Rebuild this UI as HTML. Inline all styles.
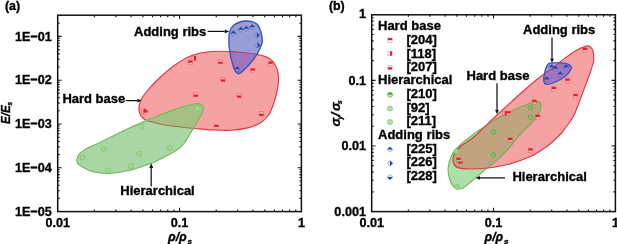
<!DOCTYPE html>
<html><head><meta charset="utf-8"><style>
html,body{margin:0;padding:0;background:#fff;width:617px;height:244px;overflow:hidden}
svg{display:block;will-change:transform}
text{font-family:"Liberation Sans",sans-serif}
</style></head><body>
<svg width="617" height="244" viewBox="0 0 617 244"><defs><clipPath id="LG"><path d="M76.70,159.80 C76.93,158.10 78.22,155.30 79.60,153.60 C80.98,151.90 82.93,150.87 85.00,149.60 C87.07,148.33 89.50,147.20 92.00,146.00 C94.50,144.80 97.00,143.80 100.00,142.40 C103.00,141.00 106.67,139.23 110.00,137.60 C113.33,135.97 116.67,134.23 120.00,132.60 C123.33,130.97 125.83,129.72 130.00,127.80 C134.17,125.88 140.00,123.23 145.00,121.10 C150.00,118.97 154.17,117.25 160.00,115.00 C165.83,112.75 174.50,109.40 180.00,107.60 C185.50,105.80 189.75,104.82 193.00,104.20 C196.25,103.58 197.82,103.50 199.50,103.90 C201.18,104.30 202.60,105.33 203.10,106.60 C203.60,107.87 203.10,109.60 202.50,111.50 C201.90,113.40 200.82,115.50 199.50,118.00 C198.18,120.50 196.30,123.67 194.60,126.50 C192.90,129.33 190.98,132.25 189.30,135.00 C187.62,137.75 186.38,140.62 184.50,143.00 C182.62,145.38 180.42,147.47 178.00,149.30 C175.58,151.13 173.00,152.33 170.00,154.00 C167.00,155.67 163.33,157.67 160.00,159.30 C156.67,160.93 155.00,161.97 150.00,163.80 C145.00,165.63 136.33,168.72 130.00,170.30 C123.67,171.88 117.00,172.85 112.00,173.30 C107.00,173.75 103.67,173.45 100.00,173.00 C96.33,172.55 92.92,171.60 90.00,170.60 C87.08,169.60 84.47,168.13 82.50,167.00 C80.53,165.87 79.17,165.00 78.20,163.80 C77.23,162.60 76.47,161.50 76.70,159.80Z"/></clipPath><clipPath id="LB"><path d="M229.70,31.50 C230.47,29.07 231.68,26.98 233.40,25.40 C235.12,23.82 237.95,22.73 240.00,22.00 C242.05,21.27 243.70,21.07 245.70,21.00 C247.70,20.93 250.03,21.02 252.00,21.60 C253.97,22.18 256.03,22.85 257.50,24.50 C258.97,26.15 260.00,28.75 260.80,31.50 C261.60,34.25 262.43,38.17 262.30,41.00 C262.17,43.83 261.12,45.93 260.00,48.50 C258.88,51.07 257.48,53.60 255.60,56.40 C253.72,59.20 250.97,62.77 248.70,65.30 C246.43,67.83 243.78,70.20 242.00,71.60 C240.22,73.00 239.17,73.83 238.00,73.70 C236.83,73.57 236.08,73.08 235.00,70.80 C233.92,68.52 232.45,63.80 231.50,60.00 C230.55,56.20 229.75,51.33 229.30,48.00 C228.85,44.67 228.73,42.75 228.80,40.00 C228.87,37.25 228.93,33.93 229.70,31.50Z"/></clipPath><clipPath id="LR"><path d="M138.90,109.80 C138.77,107.25 139.15,104.13 140.50,101.00 C141.85,97.87 143.75,94.92 147.00,91.00 C150.25,87.08 155.33,81.83 160.00,77.50 C164.67,73.17 170.00,68.53 175.00,65.00 C180.00,61.47 185.00,58.42 190.00,56.30 C195.00,54.18 200.00,53.15 205.00,52.30 C210.00,51.45 214.17,51.20 220.00,51.20 C225.83,51.20 233.67,51.73 240.00,52.30 C246.33,52.87 253.08,53.55 258.00,54.60 C262.92,55.65 266.58,56.78 269.50,58.60 C272.42,60.42 274.02,62.85 275.50,65.50 C276.98,68.15 277.93,71.42 278.40,74.50 C278.87,77.58 278.58,80.92 278.30,84.00 C278.02,87.08 277.45,89.83 276.70,93.00 C275.95,96.17 275.08,99.42 273.80,103.00 C272.52,106.58 271.13,111.25 269.00,114.50 C266.87,117.75 264.33,120.32 261.00,122.50 C257.67,124.68 254.00,126.32 249.00,127.60 C244.00,128.88 237.17,129.82 231.00,130.20 C224.83,130.58 218.00,130.18 212.00,129.90 C206.00,129.62 200.33,128.98 195.00,128.50 C189.67,128.02 185.00,127.58 180.00,127.00 C175.00,126.42 169.50,125.80 165.00,125.00 C160.50,124.20 156.12,122.98 153.00,122.20 C149.88,121.42 148.25,121.28 146.30,120.30 C144.35,119.32 142.53,118.05 141.30,116.30 C140.07,114.55 139.03,112.35 138.90,109.80Z"/></clipPath><mask id="LmG"><rect width="617" height="244" fill="#fff"/><path d="M76.70,159.80 C76.93,158.10 78.22,155.30 79.60,153.60 C80.98,151.90 82.93,150.87 85.00,149.60 C87.07,148.33 89.50,147.20 92.00,146.00 C94.50,144.80 97.00,143.80 100.00,142.40 C103.00,141.00 106.67,139.23 110.00,137.60 C113.33,135.97 116.67,134.23 120.00,132.60 C123.33,130.97 125.83,129.72 130.00,127.80 C134.17,125.88 140.00,123.23 145.00,121.10 C150.00,118.97 154.17,117.25 160.00,115.00 C165.83,112.75 174.50,109.40 180.00,107.60 C185.50,105.80 189.75,104.82 193.00,104.20 C196.25,103.58 197.82,103.50 199.50,103.90 C201.18,104.30 202.60,105.33 203.10,106.60 C203.60,107.87 203.10,109.60 202.50,111.50 C201.90,113.40 200.82,115.50 199.50,118.00 C198.18,120.50 196.30,123.67 194.60,126.50 C192.90,129.33 190.98,132.25 189.30,135.00 C187.62,137.75 186.38,140.62 184.50,143.00 C182.62,145.38 180.42,147.47 178.00,149.30 C175.58,151.13 173.00,152.33 170.00,154.00 C167.00,155.67 163.33,157.67 160.00,159.30 C156.67,160.93 155.00,161.97 150.00,163.80 C145.00,165.63 136.33,168.72 130.00,170.30 C123.67,171.88 117.00,172.85 112.00,173.30 C107.00,173.75 103.67,173.45 100.00,173.00 C96.33,172.55 92.92,171.60 90.00,170.60 C87.08,169.60 84.47,168.13 82.50,167.00 C80.53,165.87 79.17,165.00 78.20,163.80 C77.23,162.60 76.47,161.50 76.70,159.80Z" fill="#000"/></mask><mask id="LmR"><rect width="617" height="244" fill="#fff"/><path d="M138.90,109.80 C138.77,107.25 139.15,104.13 140.50,101.00 C141.85,97.87 143.75,94.92 147.00,91.00 C150.25,87.08 155.33,81.83 160.00,77.50 C164.67,73.17 170.00,68.53 175.00,65.00 C180.00,61.47 185.00,58.42 190.00,56.30 C195.00,54.18 200.00,53.15 205.00,52.30 C210.00,51.45 214.17,51.20 220.00,51.20 C225.83,51.20 233.67,51.73 240.00,52.30 C246.33,52.87 253.08,53.55 258.00,54.60 C262.92,55.65 266.58,56.78 269.50,58.60 C272.42,60.42 274.02,62.85 275.50,65.50 C276.98,68.15 277.93,71.42 278.40,74.50 C278.87,77.58 278.58,80.92 278.30,84.00 C278.02,87.08 277.45,89.83 276.70,93.00 C275.95,96.17 275.08,99.42 273.80,103.00 C272.52,106.58 271.13,111.25 269.00,114.50 C266.87,117.75 264.33,120.32 261.00,122.50 C257.67,124.68 254.00,126.32 249.00,127.60 C244.00,128.88 237.17,129.82 231.00,130.20 C224.83,130.58 218.00,130.18 212.00,129.90 C206.00,129.62 200.33,128.98 195.00,128.50 C189.67,128.02 185.00,127.58 180.00,127.00 C175.00,126.42 169.50,125.80 165.00,125.00 C160.50,124.20 156.12,122.98 153.00,122.20 C149.88,121.42 148.25,121.28 146.30,120.30 C144.35,119.32 142.53,118.05 141.30,116.30 C140.07,114.55 139.03,112.35 138.90,109.80Z" fill="#000"/></mask></defs>
<path d="M138.90,109.80 C138.77,107.25 139.15,104.13 140.50,101.00 C141.85,97.87 143.75,94.92 147.00,91.00 C150.25,87.08 155.33,81.83 160.00,77.50 C164.67,73.17 170.00,68.53 175.00,65.00 C180.00,61.47 185.00,58.42 190.00,56.30 C195.00,54.18 200.00,53.15 205.00,52.30 C210.00,51.45 214.17,51.20 220.00,51.20 C225.83,51.20 233.67,51.73 240.00,52.30 C246.33,52.87 253.08,53.55 258.00,54.60 C262.92,55.65 266.58,56.78 269.50,58.60 C272.42,60.42 274.02,62.85 275.50,65.50 C276.98,68.15 277.93,71.42 278.40,74.50 C278.87,77.58 278.58,80.92 278.30,84.00 C278.02,87.08 277.45,89.83 276.70,93.00 C275.95,96.17 275.08,99.42 273.80,103.00 C272.52,106.58 271.13,111.25 269.00,114.50 C266.87,117.75 264.33,120.32 261.00,122.50 C257.67,124.68 254.00,126.32 249.00,127.60 C244.00,128.88 237.17,129.82 231.00,130.20 C224.83,130.58 218.00,130.18 212.00,129.90 C206.00,129.62 200.33,128.98 195.00,128.50 C189.67,128.02 185.00,127.58 180.00,127.00 C175.00,126.42 169.50,125.80 165.00,125.00 C160.50,124.20 156.12,122.98 153.00,122.20 C149.88,121.42 148.25,121.28 146.30,120.30 C144.35,119.32 142.53,118.05 141.30,116.30 C140.07,114.55 139.03,112.35 138.90,109.80Z" fill="rgb(246,162,164)"/>
<path d="M76.70,159.80 C76.93,158.10 78.22,155.30 79.60,153.60 C80.98,151.90 82.93,150.87 85.00,149.60 C87.07,148.33 89.50,147.20 92.00,146.00 C94.50,144.80 97.00,143.80 100.00,142.40 C103.00,141.00 106.67,139.23 110.00,137.60 C113.33,135.97 116.67,134.23 120.00,132.60 C123.33,130.97 125.83,129.72 130.00,127.80 C134.17,125.88 140.00,123.23 145.00,121.10 C150.00,118.97 154.17,117.25 160.00,115.00 C165.83,112.75 174.50,109.40 180.00,107.60 C185.50,105.80 189.75,104.82 193.00,104.20 C196.25,103.58 197.82,103.50 199.50,103.90 C201.18,104.30 202.60,105.33 203.10,106.60 C203.60,107.87 203.10,109.60 202.50,111.50 C201.90,113.40 200.82,115.50 199.50,118.00 C198.18,120.50 196.30,123.67 194.60,126.50 C192.90,129.33 190.98,132.25 189.30,135.00 C187.62,137.75 186.38,140.62 184.50,143.00 C182.62,145.38 180.42,147.47 178.00,149.30 C175.58,151.13 173.00,152.33 170.00,154.00 C167.00,155.67 163.33,157.67 160.00,159.30 C156.67,160.93 155.00,161.97 150.00,163.80 C145.00,165.63 136.33,168.72 130.00,170.30 C123.67,171.88 117.00,172.85 112.00,173.30 C107.00,173.75 103.67,173.45 100.00,173.00 C96.33,172.55 92.92,171.60 90.00,170.60 C87.08,169.60 84.47,168.13 82.50,167.00 C80.53,165.87 79.17,165.00 78.20,163.80 C77.23,162.60 76.47,161.50 76.70,159.80Z" fill="rgb(170,214,166)"/>
<path d="M138.90,109.80 C138.77,107.25 139.15,104.13 140.50,101.00 C141.85,97.87 143.75,94.92 147.00,91.00 C150.25,87.08 155.33,81.83 160.00,77.50 C164.67,73.17 170.00,68.53 175.00,65.00 C180.00,61.47 185.00,58.42 190.00,56.30 C195.00,54.18 200.00,53.15 205.00,52.30 C210.00,51.45 214.17,51.20 220.00,51.20 C225.83,51.20 233.67,51.73 240.00,52.30 C246.33,52.87 253.08,53.55 258.00,54.60 C262.92,55.65 266.58,56.78 269.50,58.60 C272.42,60.42 274.02,62.85 275.50,65.50 C276.98,68.15 277.93,71.42 278.40,74.50 C278.87,77.58 278.58,80.92 278.30,84.00 C278.02,87.08 277.45,89.83 276.70,93.00 C275.95,96.17 275.08,99.42 273.80,103.00 C272.52,106.58 271.13,111.25 269.00,114.50 C266.87,117.75 264.33,120.32 261.00,122.50 C257.67,124.68 254.00,126.32 249.00,127.60 C244.00,128.88 237.17,129.82 231.00,130.20 C224.83,130.58 218.00,130.18 212.00,129.90 C206.00,129.62 200.33,128.98 195.00,128.50 C189.67,128.02 185.00,127.58 180.00,127.00 C175.00,126.42 169.50,125.80 165.00,125.00 C160.50,124.20 156.12,122.98 153.00,122.20 C149.88,121.42 148.25,121.28 146.30,120.30 C144.35,119.32 142.53,118.05 141.30,116.30 C140.07,114.55 139.03,112.35 138.90,109.80Z" fill="rgb(166,192,132)" clip-path="url(#LG)"/>
<path d="M138.90,109.80 C138.77,107.25 139.15,104.13 140.50,101.00 C141.85,97.87 143.75,94.92 147.00,91.00 C150.25,87.08 155.33,81.83 160.00,77.50 C164.67,73.17 170.00,68.53 175.00,65.00 C180.00,61.47 185.00,58.42 190.00,56.30 C195.00,54.18 200.00,53.15 205.00,52.30 C210.00,51.45 214.17,51.20 220.00,51.20 C225.83,51.20 233.67,51.73 240.00,52.30 C246.33,52.87 253.08,53.55 258.00,54.60 C262.92,55.65 266.58,56.78 269.50,58.60 C272.42,60.42 274.02,62.85 275.50,65.50 C276.98,68.15 277.93,71.42 278.40,74.50 C278.87,77.58 278.58,80.92 278.30,84.00 C278.02,87.08 277.45,89.83 276.70,93.00 C275.95,96.17 275.08,99.42 273.80,103.00 C272.52,106.58 271.13,111.25 269.00,114.50 C266.87,117.75 264.33,120.32 261.00,122.50 C257.67,124.68 254.00,126.32 249.00,127.60 C244.00,128.88 237.17,129.82 231.00,130.20 C224.83,130.58 218.00,130.18 212.00,129.90 C206.00,129.62 200.33,128.98 195.00,128.50 C189.67,128.02 185.00,127.58 180.00,127.00 C175.00,126.42 169.50,125.80 165.00,125.00 C160.50,124.20 156.12,122.98 153.00,122.20 C149.88,121.42 148.25,121.28 146.30,120.30 C144.35,119.32 142.53,118.05 141.30,116.30 C140.07,114.55 139.03,112.35 138.90,109.80Z" fill="none" stroke="#de3843" stroke-width="1.15" mask="url(#LmG)"/>
<path d="M138.90,109.80 C138.77,107.25 139.15,104.13 140.50,101.00 C141.85,97.87 143.75,94.92 147.00,91.00 C150.25,87.08 155.33,81.83 160.00,77.50 C164.67,73.17 170.00,68.53 175.00,65.00 C180.00,61.47 185.00,58.42 190.00,56.30 C195.00,54.18 200.00,53.15 205.00,52.30 C210.00,51.45 214.17,51.20 220.00,51.20 C225.83,51.20 233.67,51.73 240.00,52.30 C246.33,52.87 253.08,53.55 258.00,54.60 C262.92,55.65 266.58,56.78 269.50,58.60 C272.42,60.42 274.02,62.85 275.50,65.50 C276.98,68.15 277.93,71.42 278.40,74.50 C278.87,77.58 278.58,80.92 278.30,84.00 C278.02,87.08 277.45,89.83 276.70,93.00 C275.95,96.17 275.08,99.42 273.80,103.00 C272.52,106.58 271.13,111.25 269.00,114.50 C266.87,117.75 264.33,120.32 261.00,122.50 C257.67,124.68 254.00,126.32 249.00,127.60 C244.00,128.88 237.17,129.82 231.00,130.20 C224.83,130.58 218.00,130.18 212.00,129.90 C206.00,129.62 200.33,128.98 195.00,128.50 C189.67,128.02 185.00,127.58 180.00,127.00 C175.00,126.42 169.50,125.80 165.00,125.00 C160.50,124.20 156.12,122.98 153.00,122.20 C149.88,121.42 148.25,121.28 146.30,120.30 C144.35,119.32 142.53,118.05 141.30,116.30 C140.07,114.55 139.03,112.35 138.90,109.80Z" fill="none" stroke="#a8704e" stroke-width="1.15" clip-path="url(#LG)"/>
<path d="M76.70,159.80 C76.93,158.10 78.22,155.30 79.60,153.60 C80.98,151.90 82.93,150.87 85.00,149.60 C87.07,148.33 89.50,147.20 92.00,146.00 C94.50,144.80 97.00,143.80 100.00,142.40 C103.00,141.00 106.67,139.23 110.00,137.60 C113.33,135.97 116.67,134.23 120.00,132.60 C123.33,130.97 125.83,129.72 130.00,127.80 C134.17,125.88 140.00,123.23 145.00,121.10 C150.00,118.97 154.17,117.25 160.00,115.00 C165.83,112.75 174.50,109.40 180.00,107.60 C185.50,105.80 189.75,104.82 193.00,104.20 C196.25,103.58 197.82,103.50 199.50,103.90 C201.18,104.30 202.60,105.33 203.10,106.60 C203.60,107.87 203.10,109.60 202.50,111.50 C201.90,113.40 200.82,115.50 199.50,118.00 C198.18,120.50 196.30,123.67 194.60,126.50 C192.90,129.33 190.98,132.25 189.30,135.00 C187.62,137.75 186.38,140.62 184.50,143.00 C182.62,145.38 180.42,147.47 178.00,149.30 C175.58,151.13 173.00,152.33 170.00,154.00 C167.00,155.67 163.33,157.67 160.00,159.30 C156.67,160.93 155.00,161.97 150.00,163.80 C145.00,165.63 136.33,168.72 130.00,170.30 C123.67,171.88 117.00,172.85 112.00,173.30 C107.00,173.75 103.67,173.45 100.00,173.00 C96.33,172.55 92.92,171.60 90.00,170.60 C87.08,169.60 84.47,168.13 82.50,167.00 C80.53,165.87 79.17,165.00 78.20,163.80 C77.23,162.60 76.47,161.50 76.70,159.80Z" fill="none" stroke="#6cbd58" stroke-width="1.15"/>
<rect x="191.80" y="56.10" width="4.2" height="4.2" fill="rgba(255,225,225,0.3)" stroke="#e01e2e" stroke-opacity="0.55" stroke-width="0.5"/>
<rect x="193.90" y="56.10" width="2.10" height="4.2" fill="#e01e2e"/>
<rect x="188.10" y="60.60" width="4.2" height="4.2" fill="rgba(255,225,225,0.3)" stroke="#e01e2e" stroke-opacity="0.55" stroke-width="0.5"/>
<rect x="188.10" y="60.60" width="4.2" height="2.10" fill="#e01e2e"/>
<rect x="218.20" y="59.60" width="4.2" height="4.2" fill="rgba(255,225,225,0.3)" stroke="#e01e2e" stroke-opacity="0.55" stroke-width="0.5"/>
<rect x="218.20" y="61.70" width="4.2" height="2.10" fill="#e01e2e"/>
<rect x="220.90" y="77.20" width="4.2" height="4.2" fill="rgba(255,225,225,0.3)" stroke="#e01e2e" stroke-opacity="0.55" stroke-width="0.5"/>
<rect x="220.90" y="79.30" width="4.2" height="2.10" fill="#e01e2e"/>
<rect x="193.70" y="92.50" width="4.2" height="4.2" fill="rgba(255,225,225,0.3)" stroke="#e01e2e" stroke-opacity="0.55" stroke-width="0.5"/>
<rect x="193.70" y="94.60" width="4.2" height="2.10" fill="#e01e2e"/>
<rect x="237.10" y="93.40" width="4.2" height="4.2" fill="rgba(255,225,225,0.3)" stroke="#e01e2e" stroke-opacity="0.55" stroke-width="0.5"/>
<rect x="237.10" y="95.50" width="4.2" height="2.10" fill="#e01e2e"/>
<rect x="250.70" y="68.50" width="4.2" height="4.2" fill="rgba(255,225,225,0.3)" stroke="#e01e2e" stroke-opacity="0.55" stroke-width="0.5"/>
<rect x="250.70" y="68.50" width="4.2" height="2.10" fill="#e01e2e"/>
<rect x="268.40" y="61.70" width="4.2" height="4.2" fill="rgba(255,225,225,0.3)" stroke="#e01e2e" stroke-opacity="0.55" stroke-width="0.5"/>
<rect x="268.40" y="61.70" width="4.2" height="2.10" fill="#e01e2e"/>
<rect x="259.20" y="111.70" width="4.2" height="4.2" fill="rgba(255,225,225,0.3)" stroke="#e01e2e" stroke-opacity="0.55" stroke-width="0.5"/>
<rect x="259.20" y="113.80" width="4.2" height="2.10" fill="#e01e2e"/>
<rect x="214.20" y="124.90" width="4.2" height="4.2" fill="rgba(255,225,225,0.3)" stroke="#e01e2e" stroke-opacity="0.55" stroke-width="0.5"/>
<rect x="214.20" y="124.90" width="4.2" height="2.10" fill="#e01e2e"/>
<rect x="141.60" y="108.90" width="4.2" height="4.2" fill="rgba(255,225,225,0.3)" stroke="#e01e2e" stroke-opacity="0.55" stroke-width="0.5"/>
<rect x="143.70" y="108.90" width="2.10" height="4.2" fill="#e01e2e"/>
<rect x="143.40" y="110.30" width="4.2" height="4.2" fill="rgba(255,225,225,0.3)" stroke="#e01e2e" stroke-opacity="0.55" stroke-width="0.5"/>
<rect x="143.40" y="110.30" width="4.2" height="2.10" fill="#e01e2e"/>
<circle cx="197.5" cy="108.7" r="2.6" fill="#a3d596" stroke="#86c873" stroke-width="0.9"/>
<circle cx="141.3" cy="126.1" r="2.6" fill="#a3d596" stroke="#86c873" stroke-width="0.9"/>
<circle cx="103.7" cy="149" r="2.6" fill="#a3d596" stroke="#86c873" stroke-width="0.9"/>
<circle cx="82.4" cy="157.3" r="2.6" fill="#a3d596" stroke="#86c873" stroke-width="0.9"/>
<circle cx="139.4" cy="153.7" r="2.6" fill="#a3d596" stroke="#86c873" stroke-width="0.9"/>
<circle cx="169.6" cy="147.5" r="2.6" fill="#a3d596" stroke="#86c873" stroke-width="0.9"/>
<circle cx="131" cy="166.2" r="2.6" fill="#a3d596" stroke="#86c873" stroke-width="0.9"/>
<circle cx="107.7" cy="170.4" r="2.6" fill="#a3d596" stroke="#86c873" stroke-width="0.9"/>
<path d="M229.70,31.50 C230.47,29.07 231.68,26.98 233.40,25.40 C235.12,23.82 237.95,22.73 240.00,22.00 C242.05,21.27 243.70,21.07 245.70,21.00 C247.70,20.93 250.03,21.02 252.00,21.60 C253.97,22.18 256.03,22.85 257.50,24.50 C258.97,26.15 260.00,28.75 260.80,31.50 C261.60,34.25 262.43,38.17 262.30,41.00 C262.17,43.83 261.12,45.93 260.00,48.50 C258.88,51.07 257.48,53.60 255.60,56.40 C253.72,59.20 250.97,62.77 248.70,65.30 C246.43,67.83 243.78,70.20 242.00,71.60 C240.22,73.00 239.17,73.83 238.00,73.70 C236.83,73.57 236.08,73.08 235.00,70.80 C233.92,68.52 232.45,63.80 231.50,60.00 C230.55,56.20 229.75,51.33 229.30,48.00 C228.85,44.67 228.73,42.75 228.80,40.00 C228.87,37.25 228.93,33.93 229.70,31.50Z" fill="rgb(152,158,213)"/>
<path d="M138.90,109.80 C138.77,107.25 139.15,104.13 140.50,101.00 C141.85,97.87 143.75,94.92 147.00,91.00 C150.25,87.08 155.33,81.83 160.00,77.50 C164.67,73.17 170.00,68.53 175.00,65.00 C180.00,61.47 185.00,58.42 190.00,56.30 C195.00,54.18 200.00,53.15 205.00,52.30 C210.00,51.45 214.17,51.20 220.00,51.20 C225.83,51.20 233.67,51.73 240.00,52.30 C246.33,52.87 253.08,53.55 258.00,54.60 C262.92,55.65 266.58,56.78 269.50,58.60 C272.42,60.42 274.02,62.85 275.50,65.50 C276.98,68.15 277.93,71.42 278.40,74.50 C278.87,77.58 278.58,80.92 278.30,84.00 C278.02,87.08 277.45,89.83 276.70,93.00 C275.95,96.17 275.08,99.42 273.80,103.00 C272.52,106.58 271.13,111.25 269.00,114.50 C266.87,117.75 264.33,120.32 261.00,122.50 C257.67,124.68 254.00,126.32 249.00,127.60 C244.00,128.88 237.17,129.82 231.00,130.20 C224.83,130.58 218.00,130.18 212.00,129.90 C206.00,129.62 200.33,128.98 195.00,128.50 C189.67,128.02 185.00,127.58 180.00,127.00 C175.00,126.42 169.50,125.80 165.00,125.00 C160.50,124.20 156.12,122.98 153.00,122.20 C149.88,121.42 148.25,121.28 146.30,120.30 C144.35,119.32 142.53,118.05 141.30,116.30 C140.07,114.55 139.03,112.35 138.90,109.80Z" fill="rgb(158,118,190)" clip-path="url(#LB)"/>
<path d="M138.90,109.80 C138.77,107.25 139.15,104.13 140.50,101.00 C141.85,97.87 143.75,94.92 147.00,91.00 C150.25,87.08 155.33,81.83 160.00,77.50 C164.67,73.17 170.00,68.53 175.00,65.00 C180.00,61.47 185.00,58.42 190.00,56.30 C195.00,54.18 200.00,53.15 205.00,52.30 C210.00,51.45 214.17,51.20 220.00,51.20 C225.83,51.20 233.67,51.73 240.00,52.30 C246.33,52.87 253.08,53.55 258.00,54.60 C262.92,55.65 266.58,56.78 269.50,58.60 C272.42,60.42 274.02,62.85 275.50,65.50 C276.98,68.15 277.93,71.42 278.40,74.50 C278.87,77.58 278.58,80.92 278.30,84.00 C278.02,87.08 277.45,89.83 276.70,93.00 C275.95,96.17 275.08,99.42 273.80,103.00 C272.52,106.58 271.13,111.25 269.00,114.50 C266.87,117.75 264.33,120.32 261.00,122.50 C257.67,124.68 254.00,126.32 249.00,127.60 C244.00,128.88 237.17,129.82 231.00,130.20 C224.83,130.58 218.00,130.18 212.00,129.90 C206.00,129.62 200.33,128.98 195.00,128.50 C189.67,128.02 185.00,127.58 180.00,127.00 C175.00,126.42 169.50,125.80 165.00,125.00 C160.50,124.20 156.12,122.98 153.00,122.20 C149.88,121.42 148.25,121.28 146.30,120.30 C144.35,119.32 142.53,118.05 141.30,116.30 C140.07,114.55 139.03,112.35 138.90,109.80Z" fill="none" stroke="#b0407a" stroke-width="1.15" clip-path="url(#LB)"/>
<path d="M229.70,31.50 C230.47,29.07 231.68,26.98 233.40,25.40 C235.12,23.82 237.95,22.73 240.00,22.00 C242.05,21.27 243.70,21.07 245.70,21.00 C247.70,20.93 250.03,21.02 252.00,21.60 C253.97,22.18 256.03,22.85 257.50,24.50 C258.97,26.15 260.00,28.75 260.80,31.50 C261.60,34.25 262.43,38.17 262.30,41.00 C262.17,43.83 261.12,45.93 260.00,48.50 C258.88,51.07 257.48,53.60 255.60,56.40 C253.72,59.20 250.97,62.77 248.70,65.30 C246.43,67.83 243.78,70.20 242.00,71.60 C240.22,73.00 239.17,73.83 238.00,73.70 C236.83,73.57 236.08,73.08 235.00,70.80 C233.92,68.52 232.45,63.80 231.50,60.00 C230.55,56.20 229.75,51.33 229.30,48.00 C228.85,44.67 228.73,42.75 228.80,40.00 C228.87,37.25 228.93,33.93 229.70,31.50Z" fill="none" stroke="#3557bd" stroke-width="1.3499999999999999"/>
<path d="M233.4,30.599999999999998L236.20000000000002,33.4L233.4,36.199999999999996L230.6,33.4Z" fill="rgba(220,225,250,0.15)" stroke="#2742aa" stroke-opacity="0.6" stroke-width="0.6"/>
<path d="M233.4,30.599999999999998L236.20000000000002,33.4L230.6,33.4Z" fill="#2742aa"/>
<path d="M240.8,26.9L243.60000000000002,29.7L240.8,32.5L238.0,29.7Z" fill="rgba(220,225,250,0.15)" stroke="#2742aa" stroke-opacity="0.6" stroke-width="0.6"/>
<path d="M240.8,26.9L243.60000000000002,29.7L238.0,29.7Z" fill="#2742aa"/>
<path d="M246.3,26.0L249.10000000000002,28.8L246.3,31.6L243.5,28.8Z" fill="rgba(220,225,250,0.15)" stroke="#2742aa" stroke-opacity="0.6" stroke-width="0.6"/>
<path d="M246.3,26.0L249.10000000000002,28.8L243.5,28.8Z" fill="#2742aa"/>
<path d="M252.1,24.4L254.9,27.2L252.1,30.0L249.29999999999998,27.2Z" fill="rgba(220,225,250,0.15)" stroke="#2742aa" stroke-opacity="0.6" stroke-width="0.6"/>
<path d="M252.1,24.4L254.9,27.2L249.29999999999998,27.2Z" fill="#2742aa"/>
<path d="M256.8,32.400000000000006L259.6,35.2L256.8,38.0L254.0,35.2Z" fill="rgba(220,225,250,0.15)" stroke="#2742aa" stroke-opacity="0.6" stroke-width="0.6"/>
<path d="M256.8,32.400000000000006L259.6,35.2L256.8,38.0Z" fill="#2742aa"/>
<path d="M257.4,42.400000000000006L260.2,45.2L257.4,48.0L254.59999999999997,45.2Z" fill="rgba(220,225,250,0.15)" stroke="#2742aa" stroke-opacity="0.6" stroke-width="0.6"/>
<path d="M257.4,42.400000000000006L260.2,45.2L257.4,48.0Z" fill="#2742aa"/>
<path d="M237.3,66.4L240.10000000000002,69.2L237.3,72.0L234.5,69.2Z" fill="rgba(220,225,250,0.15)" stroke="#2742aa" stroke-opacity="0.6" stroke-width="0.6"/>
<path d="M237.3,66.4L240.10000000000002,69.2L234.5,69.2Z" fill="#2742aa"/>
<rect x="57.7" y="15.2" width="243.70" height="196.40" fill="none" stroke="#111" stroke-width="1.5"/>
<path d="M94.38,211.6v-2.0M94.38,15.2v2.0M115.84,211.6v-2.0M115.84,15.2v2.0M131.06,211.6v-2.0M131.06,15.2v2.0M142.87,211.6v-2.0M142.87,15.2v2.0M152.52,211.6v-2.0M152.52,15.2v2.0M160.68,211.6v-2.0M160.68,15.2v2.0M167.74,211.6v-2.0M167.74,15.2v2.0M173.97,211.6v-2.0M173.97,15.2v2.0M179.55,211.6v-3.8M179.55,15.2v3.8M216.23,211.6v-2.0M216.23,15.2v2.0M237.69,211.6v-2.0M237.69,15.2v2.0M252.91,211.6v-2.0M252.91,15.2v2.0M264.72,211.6v-2.0M264.72,15.2v2.0M274.37,211.6v-2.0M274.37,15.2v2.0M282.53,211.6v-2.0M282.53,15.2v2.0M289.59,211.6v-2.0M289.59,15.2v2.0M295.82,211.6v-2.0M295.82,15.2v2.0" stroke="#111" stroke-width="1.1" fill="none"/>
<path d="M57.7,198.41h2.0M301.4,198.41h-2.0M57.7,190.70h2.0M301.4,190.70h-2.0M57.7,185.23h2.0M301.4,185.23h-2.0M57.7,180.99h2.0M301.4,180.99h-2.0M57.7,177.52h2.0M301.4,177.52h-2.0M57.7,174.58h2.0M301.4,174.58h-2.0M57.7,172.04h2.0M301.4,172.04h-2.0M57.7,169.80h2.0M301.4,169.80h-2.0M57.7,167.80h3.8M301.4,167.80h-3.8M57.7,154.61h2.0M301.4,154.61h-2.0M57.7,146.90h2.0M301.4,146.90h-2.0M57.7,141.43h2.0M301.4,141.43h-2.0M57.7,137.19h2.0M301.4,137.19h-2.0M57.7,133.72h2.0M301.4,133.72h-2.0M57.7,130.78h2.0M301.4,130.78h-2.0M57.7,128.24h2.0M301.4,128.24h-2.0M57.7,126.00h2.0M301.4,126.00h-2.0M57.7,124.00h3.8M301.4,124.00h-3.8M57.7,110.81h2.0M301.4,110.81h-2.0M57.7,103.10h2.0M301.4,103.10h-2.0M57.7,97.63h2.0M301.4,97.63h-2.0M57.7,93.39h2.0M301.4,93.39h-2.0M57.7,89.92h2.0M301.4,89.92h-2.0M57.7,86.98h2.0M301.4,86.98h-2.0M57.7,84.44h2.0M301.4,84.44h-2.0M57.7,82.20h2.0M301.4,82.20h-2.0M57.7,80.20h3.8M301.4,80.20h-3.8M57.7,67.01h2.0M301.4,67.01h-2.0M57.7,59.30h2.0M301.4,59.30h-2.0M57.7,53.83h2.0M301.4,53.83h-2.0M57.7,49.59h2.0M301.4,49.59h-2.0M57.7,46.12h2.0M301.4,46.12h-2.0M57.7,43.18h2.0M301.4,43.18h-2.0M57.7,40.64h2.0M301.4,40.64h-2.0M57.7,38.40h2.0M301.4,38.40h-2.0M57.7,36.40h3.8M301.4,36.40h-3.8M57.7,23.21h2.0M301.4,23.21h-2.0" stroke="#111" stroke-width="1.1" fill="none"/>
<text transform="translate(51.9,40.50) scale(0.93,1)" font-size="13.6" text-anchor="end" font-family="Liberation Sans" font-weight="bold" fill="#000" stroke="#000" stroke-width="0.35" >1E−01</text>
<text transform="translate(51.9,84.30) scale(0.93,1)" font-size="13.6" text-anchor="end" font-family="Liberation Sans" font-weight="bold" fill="#000" stroke="#000" stroke-width="0.35" >1E−02</text>
<text transform="translate(51.9,128.10) scale(0.93,1)" font-size="13.6" text-anchor="end" font-family="Liberation Sans" font-weight="bold" fill="#000" stroke="#000" stroke-width="0.35" >1E−03</text>
<text transform="translate(51.9,171.90) scale(0.93,1)" font-size="13.6" text-anchor="end" font-family="Liberation Sans" font-weight="bold" fill="#000" stroke="#000" stroke-width="0.35" >1E−04</text>
<text transform="translate(51.9,215.70) scale(0.93,1)" font-size="13.6" text-anchor="end" font-family="Liberation Sans" font-weight="bold" fill="#000" stroke="#000" stroke-width="0.35" >1E−05</text>
<text transform="translate(57.70,227.0) scale(0.93,1)" font-size="13.6" text-anchor="middle" font-family="Liberation Sans" font-weight="bold" fill="#000" stroke="#000" stroke-width="0.35" >0.01</text>
<text transform="translate(179.55,227.0) scale(0.93,1)" font-size="13.6" text-anchor="middle" font-family="Liberation Sans" font-weight="bold" fill="#000" stroke="#000" stroke-width="0.35" >0.1</text>
<text transform="translate(301.40,227.0) scale(0.93,1)" font-size="13.6" text-anchor="middle" font-family="Liberation Sans" font-weight="bold" fill="#000" stroke="#000" stroke-width="0.35" >1</text>
<text x="134" y="35.8" font-size="13" text-anchor="start" font-family="Liberation Sans" font-weight="bold" fill="#000" stroke="#000" stroke-width="0.35" >Adding ribs</text>
<line x1="207.6" y1="31.4" x2="224.80" y2="31.40" stroke="#111" stroke-width="1.25"/>
<path d="M229.2,31.4L224.80,33.35L224.80,29.45Z" fill="#111"/>
<text x="62.4" y="103.2" font-size="13" text-anchor="start" font-family="Liberation Sans" font-weight="bold" fill="#000" stroke="#000" stroke-width="0.35" >Hard base</text>
<line x1="125.8" y1="100.6" x2="137.40" y2="100.60" stroke="#111" stroke-width="1.25"/>
<path d="M141.8,100.6L137.40,102.55L137.40,98.65Z" fill="#111"/>
<text x="120.3" y="195.3" font-size="13" text-anchor="start" font-family="Liberation Sans" font-weight="bold" fill="#000" stroke="#000" stroke-width="0.35" >Hierarchical</text>
<line x1="151.2" y1="186.4" x2="151.20" y2="168.10" stroke="#111" stroke-width="1.25"/>
<path d="M151.2,162.9L153.15,168.10L149.25,168.10Z" fill="#111"/>
<text x="4.9" y="9.8" font-size="12.4" text-anchor="start" font-family="Liberation Sans" font-weight="bold" fill="#000" stroke="#000" stroke-width="0.35" >(a)</text>
<defs><clipPath id="RG"><path d="M537.80,101.40 C539.72,101.77 540.85,103.60 541.00,105.70 C541.15,107.80 540.15,111.23 538.70,114.00 C537.25,116.77 535.37,118.92 532.30,122.30 C529.23,125.68 524.18,130.02 520.30,134.30 C516.42,138.58 512.97,143.62 509.00,148.00 C505.03,152.38 500.83,156.68 496.50,160.60 C492.17,164.52 487.33,167.88 483.00,171.50 C478.67,175.12 474.00,179.47 470.50,182.30 C467.00,185.13 464.58,187.63 462.00,188.50 C459.42,189.37 457.00,188.92 455.00,187.50 C453.00,186.08 451.13,183.33 450.00,180.00 C448.87,176.67 447.78,171.87 448.20,167.50 C448.62,163.13 450.53,157.55 452.50,153.80 C454.47,150.05 456.67,148.13 460.00,145.00 C463.33,141.87 467.08,138.95 472.50,135.00 C477.92,131.05 485.83,125.38 492.50,121.30 C499.17,117.22 506.33,113.47 512.50,110.50 C518.67,107.53 525.28,105.02 529.50,103.50 C533.72,101.98 535.88,101.03 537.80,101.40Z"/></clipPath><clipPath id="RB"><path d="M548.75,63.60 C550.72,62.33 554.12,62.93 557.00,62.90 C559.88,62.87 563.62,62.68 566.00,63.40 C568.38,64.12 570.72,65.85 571.30,67.20 C571.88,68.55 570.47,70.03 569.50,71.50 C568.53,72.97 567.65,74.33 565.50,76.00 C563.35,77.67 559.75,80.10 556.60,81.50 C553.45,82.90 548.75,84.63 546.60,84.40 C544.45,84.17 543.93,82.42 543.70,80.10 C543.47,77.78 544.36,73.25 545.20,70.50 C546.04,67.75 546.78,64.87 548.75,63.60Z"/></clipPath><clipPath id="RR"><path d="M588.50,45.90 C590.05,46.25 591.43,47.70 592.30,49.30 C593.17,50.90 593.53,53.30 593.70,55.50 C593.87,57.70 593.85,59.75 593.30,62.50 C592.75,65.25 591.62,68.42 590.40,72.00 C589.18,75.58 587.73,79.33 586.00,84.00 C584.27,88.67 581.95,94.92 580.00,100.00 C578.05,105.08 576.30,110.42 574.30,114.50 C572.30,118.58 570.13,121.42 568.00,124.50 C565.87,127.58 563.83,130.33 561.50,133.00 C559.17,135.67 556.62,138.13 554.00,140.50 C551.38,142.87 549.63,144.57 545.80,147.20 C541.97,149.83 537.23,153.45 531.00,156.30 C524.77,159.15 515.57,162.35 508.40,164.30 C501.23,166.25 494.40,167.22 488.00,168.00 C481.60,168.78 475.00,169.07 470.00,169.00 C465.00,168.93 460.77,168.60 458.00,167.60 C455.23,166.60 454.07,165.10 453.40,163.00 C452.73,160.90 452.90,157.67 454.00,155.00 C455.10,152.33 456.50,150.17 460.00,147.00 C463.50,143.83 468.75,141.42 475.00,136.00 C481.25,130.58 490.00,121.50 497.50,114.50 C505.00,107.50 512.92,100.25 520.00,94.00 C527.08,87.75 534.62,81.28 540.00,77.00 C545.38,72.72 548.20,71.40 552.30,68.30 C556.40,65.20 560.48,61.45 564.60,58.40 C568.72,55.35 573.93,51.87 577.00,50.00 C580.07,48.13 581.08,47.88 583.00,47.20 C584.92,46.52 586.95,45.55 588.50,45.90Z"/></clipPath><mask id="RmG"><rect width="617" height="244" fill="#fff"/><path d="M537.80,101.40 C539.72,101.77 540.85,103.60 541.00,105.70 C541.15,107.80 540.15,111.23 538.70,114.00 C537.25,116.77 535.37,118.92 532.30,122.30 C529.23,125.68 524.18,130.02 520.30,134.30 C516.42,138.58 512.97,143.62 509.00,148.00 C505.03,152.38 500.83,156.68 496.50,160.60 C492.17,164.52 487.33,167.88 483.00,171.50 C478.67,175.12 474.00,179.47 470.50,182.30 C467.00,185.13 464.58,187.63 462.00,188.50 C459.42,189.37 457.00,188.92 455.00,187.50 C453.00,186.08 451.13,183.33 450.00,180.00 C448.87,176.67 447.78,171.87 448.20,167.50 C448.62,163.13 450.53,157.55 452.50,153.80 C454.47,150.05 456.67,148.13 460.00,145.00 C463.33,141.87 467.08,138.95 472.50,135.00 C477.92,131.05 485.83,125.38 492.50,121.30 C499.17,117.22 506.33,113.47 512.50,110.50 C518.67,107.53 525.28,105.02 529.50,103.50 C533.72,101.98 535.88,101.03 537.80,101.40Z" fill="#000"/></mask><mask id="RmR"><rect width="617" height="244" fill="#fff"/><path d="M588.50,45.90 C590.05,46.25 591.43,47.70 592.30,49.30 C593.17,50.90 593.53,53.30 593.70,55.50 C593.87,57.70 593.85,59.75 593.30,62.50 C592.75,65.25 591.62,68.42 590.40,72.00 C589.18,75.58 587.73,79.33 586.00,84.00 C584.27,88.67 581.95,94.92 580.00,100.00 C578.05,105.08 576.30,110.42 574.30,114.50 C572.30,118.58 570.13,121.42 568.00,124.50 C565.87,127.58 563.83,130.33 561.50,133.00 C559.17,135.67 556.62,138.13 554.00,140.50 C551.38,142.87 549.63,144.57 545.80,147.20 C541.97,149.83 537.23,153.45 531.00,156.30 C524.77,159.15 515.57,162.35 508.40,164.30 C501.23,166.25 494.40,167.22 488.00,168.00 C481.60,168.78 475.00,169.07 470.00,169.00 C465.00,168.93 460.77,168.60 458.00,167.60 C455.23,166.60 454.07,165.10 453.40,163.00 C452.73,160.90 452.90,157.67 454.00,155.00 C455.10,152.33 456.50,150.17 460.00,147.00 C463.50,143.83 468.75,141.42 475.00,136.00 C481.25,130.58 490.00,121.50 497.50,114.50 C505.00,107.50 512.92,100.25 520.00,94.00 C527.08,87.75 534.62,81.28 540.00,77.00 C545.38,72.72 548.20,71.40 552.30,68.30 C556.40,65.20 560.48,61.45 564.60,58.40 C568.72,55.35 573.93,51.87 577.00,50.00 C580.07,48.13 581.08,47.88 583.00,47.20 C584.92,46.52 586.95,45.55 588.50,45.90Z" fill="#000"/></mask></defs>
<path d="M588.50,45.90 C590.05,46.25 591.43,47.70 592.30,49.30 C593.17,50.90 593.53,53.30 593.70,55.50 C593.87,57.70 593.85,59.75 593.30,62.50 C592.75,65.25 591.62,68.42 590.40,72.00 C589.18,75.58 587.73,79.33 586.00,84.00 C584.27,88.67 581.95,94.92 580.00,100.00 C578.05,105.08 576.30,110.42 574.30,114.50 C572.30,118.58 570.13,121.42 568.00,124.50 C565.87,127.58 563.83,130.33 561.50,133.00 C559.17,135.67 556.62,138.13 554.00,140.50 C551.38,142.87 549.63,144.57 545.80,147.20 C541.97,149.83 537.23,153.45 531.00,156.30 C524.77,159.15 515.57,162.35 508.40,164.30 C501.23,166.25 494.40,167.22 488.00,168.00 C481.60,168.78 475.00,169.07 470.00,169.00 C465.00,168.93 460.77,168.60 458.00,167.60 C455.23,166.60 454.07,165.10 453.40,163.00 C452.73,160.90 452.90,157.67 454.00,155.00 C455.10,152.33 456.50,150.17 460.00,147.00 C463.50,143.83 468.75,141.42 475.00,136.00 C481.25,130.58 490.00,121.50 497.50,114.50 C505.00,107.50 512.92,100.25 520.00,94.00 C527.08,87.75 534.62,81.28 540.00,77.00 C545.38,72.72 548.20,71.40 552.30,68.30 C556.40,65.20 560.48,61.45 564.60,58.40 C568.72,55.35 573.93,51.87 577.00,50.00 C580.07,48.13 581.08,47.88 583.00,47.20 C584.92,46.52 586.95,45.55 588.50,45.90Z" fill="rgb(246,162,164)"/>
<path d="M537.80,101.40 C539.72,101.77 540.85,103.60 541.00,105.70 C541.15,107.80 540.15,111.23 538.70,114.00 C537.25,116.77 535.37,118.92 532.30,122.30 C529.23,125.68 524.18,130.02 520.30,134.30 C516.42,138.58 512.97,143.62 509.00,148.00 C505.03,152.38 500.83,156.68 496.50,160.60 C492.17,164.52 487.33,167.88 483.00,171.50 C478.67,175.12 474.00,179.47 470.50,182.30 C467.00,185.13 464.58,187.63 462.00,188.50 C459.42,189.37 457.00,188.92 455.00,187.50 C453.00,186.08 451.13,183.33 450.00,180.00 C448.87,176.67 447.78,171.87 448.20,167.50 C448.62,163.13 450.53,157.55 452.50,153.80 C454.47,150.05 456.67,148.13 460.00,145.00 C463.33,141.87 467.08,138.95 472.50,135.00 C477.92,131.05 485.83,125.38 492.50,121.30 C499.17,117.22 506.33,113.47 512.50,110.50 C518.67,107.53 525.28,105.02 529.50,103.50 C533.72,101.98 535.88,101.03 537.80,101.40Z" fill="rgb(172,224,168)"/>
<path d="M588.50,45.90 C590.05,46.25 591.43,47.70 592.30,49.30 C593.17,50.90 593.53,53.30 593.70,55.50 C593.87,57.70 593.85,59.75 593.30,62.50 C592.75,65.25 591.62,68.42 590.40,72.00 C589.18,75.58 587.73,79.33 586.00,84.00 C584.27,88.67 581.95,94.92 580.00,100.00 C578.05,105.08 576.30,110.42 574.30,114.50 C572.30,118.58 570.13,121.42 568.00,124.50 C565.87,127.58 563.83,130.33 561.50,133.00 C559.17,135.67 556.62,138.13 554.00,140.50 C551.38,142.87 549.63,144.57 545.80,147.20 C541.97,149.83 537.23,153.45 531.00,156.30 C524.77,159.15 515.57,162.35 508.40,164.30 C501.23,166.25 494.40,167.22 488.00,168.00 C481.60,168.78 475.00,169.07 470.00,169.00 C465.00,168.93 460.77,168.60 458.00,167.60 C455.23,166.60 454.07,165.10 453.40,163.00 C452.73,160.90 452.90,157.67 454.00,155.00 C455.10,152.33 456.50,150.17 460.00,147.00 C463.50,143.83 468.75,141.42 475.00,136.00 C481.25,130.58 490.00,121.50 497.50,114.50 C505.00,107.50 512.92,100.25 520.00,94.00 C527.08,87.75 534.62,81.28 540.00,77.00 C545.38,72.72 548.20,71.40 552.30,68.30 C556.40,65.20 560.48,61.45 564.60,58.40 C568.72,55.35 573.93,51.87 577.00,50.00 C580.07,48.13 581.08,47.88 583.00,47.20 C584.92,46.52 586.95,45.55 588.50,45.90Z" fill="rgb(192,163,127)" clip-path="url(#RG)"/>
<path d="M537.80,101.40 C539.72,101.77 540.85,103.60 541.00,105.70 C541.15,107.80 540.15,111.23 538.70,114.00 C537.25,116.77 535.37,118.92 532.30,122.30 C529.23,125.68 524.18,130.02 520.30,134.30 C516.42,138.58 512.97,143.62 509.00,148.00 C505.03,152.38 500.83,156.68 496.50,160.60 C492.17,164.52 487.33,167.88 483.00,171.50 C478.67,175.12 474.00,179.47 470.50,182.30 C467.00,185.13 464.58,187.63 462.00,188.50 C459.42,189.37 457.00,188.92 455.00,187.50 C453.00,186.08 451.13,183.33 450.00,180.00 C448.87,176.67 447.78,171.87 448.20,167.50 C448.62,163.13 450.53,157.55 452.50,153.80 C454.47,150.05 456.67,148.13 460.00,145.00 C463.33,141.87 467.08,138.95 472.50,135.00 C477.92,131.05 485.83,125.38 492.50,121.30 C499.17,117.22 506.33,113.47 512.50,110.50 C518.67,107.53 525.28,105.02 529.50,103.50 C533.72,101.98 535.88,101.03 537.80,101.40Z" fill="none" stroke="#6cbd58" stroke-width="1.15" mask="url(#RmR)"/>
<path d="M537.80,101.40 C539.72,101.77 540.85,103.60 541.00,105.70 C541.15,107.80 540.15,111.23 538.70,114.00 C537.25,116.77 535.37,118.92 532.30,122.30 C529.23,125.68 524.18,130.02 520.30,134.30 C516.42,138.58 512.97,143.62 509.00,148.00 C505.03,152.38 500.83,156.68 496.50,160.60 C492.17,164.52 487.33,167.88 483.00,171.50 C478.67,175.12 474.00,179.47 470.50,182.30 C467.00,185.13 464.58,187.63 462.00,188.50 C459.42,189.37 457.00,188.92 455.00,187.50 C453.00,186.08 451.13,183.33 450.00,180.00 C448.87,176.67 447.78,171.87 448.20,167.50 C448.62,163.13 450.53,157.55 452.50,153.80 C454.47,150.05 456.67,148.13 460.00,145.00 C463.33,141.87 467.08,138.95 472.50,135.00 C477.92,131.05 485.83,125.38 492.50,121.30 C499.17,117.22 506.33,113.47 512.50,110.50 C518.67,107.53 525.28,105.02 529.50,103.50 C533.72,101.98 535.88,101.03 537.80,101.40Z" fill="none" stroke="#72b04e" stroke-width="1.15" clip-path="url(#RR)"/>
<path d="M588.50,45.90 C590.05,46.25 591.43,47.70 592.30,49.30 C593.17,50.90 593.53,53.30 593.70,55.50 C593.87,57.70 593.85,59.75 593.30,62.50 C592.75,65.25 591.62,68.42 590.40,72.00 C589.18,75.58 587.73,79.33 586.00,84.00 C584.27,88.67 581.95,94.92 580.00,100.00 C578.05,105.08 576.30,110.42 574.30,114.50 C572.30,118.58 570.13,121.42 568.00,124.50 C565.87,127.58 563.83,130.33 561.50,133.00 C559.17,135.67 556.62,138.13 554.00,140.50 C551.38,142.87 549.63,144.57 545.80,147.20 C541.97,149.83 537.23,153.45 531.00,156.30 C524.77,159.15 515.57,162.35 508.40,164.30 C501.23,166.25 494.40,167.22 488.00,168.00 C481.60,168.78 475.00,169.07 470.00,169.00 C465.00,168.93 460.77,168.60 458.00,167.60 C455.23,166.60 454.07,165.10 453.40,163.00 C452.73,160.90 452.90,157.67 454.00,155.00 C455.10,152.33 456.50,150.17 460.00,147.00 C463.50,143.83 468.75,141.42 475.00,136.00 C481.25,130.58 490.00,121.50 497.50,114.50 C505.00,107.50 512.92,100.25 520.00,94.00 C527.08,87.75 534.62,81.28 540.00,77.00 C545.38,72.72 548.20,71.40 552.30,68.30 C556.40,65.20 560.48,61.45 564.60,58.40 C568.72,55.35 573.93,51.87 577.00,50.00 C580.07,48.13 581.08,47.88 583.00,47.20 C584.92,46.52 586.95,45.55 588.50,45.90Z" fill="none" stroke="#de3843" stroke-width="1.15"/>
<circle cx="493.3" cy="131.8" r="2.4" fill="#8fb866" stroke="#5aae46" stroke-width="0.8"/>
<circle cx="493.3" cy="155" r="2.4" fill="#8fb866" stroke="#5aae46" stroke-width="0.8"/>
<circle cx="530.4" cy="107.5" r="2.4" fill="#8fb866" stroke="#5aae46" stroke-width="0.8"/>
<circle cx="530.4" cy="117.3" r="2.4" fill="#8fb866" stroke="#5aae46" stroke-width="0.8"/>
<circle cx="456.3" cy="151.3" r="2.4" fill="#a0d690" stroke="#7cc468" stroke-width="0.8"/>
<circle cx="457" cy="187" r="2.4" fill="#a0d690" stroke="#7cc468" stroke-width="0.8"/>
<rect x="582.90" y="47.90" width="4.2" height="4.2" fill="rgba(255,225,225,0.3)" stroke="#e01e2e" stroke-opacity="0.55" stroke-width="0.5"/>
<rect x="582.90" y="47.90" width="4.2" height="2.10" fill="#e01e2e"/>
<rect x="565.30" y="78.70" width="4.2" height="4.2" fill="rgba(255,225,225,0.3)" stroke="#e01e2e" stroke-opacity="0.55" stroke-width="0.5"/>
<rect x="565.30" y="78.70" width="4.2" height="2.10" fill="#e01e2e"/>
<rect x="551.70" y="86.90" width="4.2" height="4.2" fill="rgba(255,225,225,0.3)" stroke="#e01e2e" stroke-opacity="0.55" stroke-width="0.5"/>
<rect x="551.70" y="86.90" width="4.2" height="2.10" fill="#e01e2e"/>
<rect x="573.50" y="94.10" width="4.2" height="4.2" fill="rgba(255,225,225,0.3)" stroke="#e01e2e" stroke-opacity="0.55" stroke-width="0.5"/>
<rect x="573.50" y="94.10" width="4.2" height="2.10" fill="#e01e2e"/>
<rect x="532.20" y="99.90" width="4.2" height="4.2" fill="rgba(255,225,225,0.3)" stroke="#e01e2e" stroke-opacity="0.55" stroke-width="0.5"/>
<rect x="532.20" y="99.90" width="4.2" height="2.10" fill="#e01e2e"/>
<rect x="535.60" y="114.90" width="4.2" height="4.2" fill="rgba(255,225,225,0.3)" stroke="#e01e2e" stroke-opacity="0.55" stroke-width="0.5"/>
<rect x="535.60" y="114.90" width="4.2" height="2.10" fill="#e01e2e"/>
<rect x="502.60" y="111.20" width="4.2" height="4.2" fill="rgba(255,225,225,0.3)" stroke="#e01e2e" stroke-opacity="0.55" stroke-width="0.5"/>
<rect x="504.70" y="111.20" width="2.10" height="4.2" fill="#e01e2e"/>
<rect x="506.20" y="111.20" width="4.2" height="4.2" fill="rgba(255,225,225,0.3)" stroke="#e01e2e" stroke-opacity="0.55" stroke-width="0.5"/>
<rect x="506.20" y="111.20" width="4.2" height="2.10" fill="#e01e2e"/>
<rect x="508.10" y="137.90" width="4.2" height="4.2" fill="rgba(255,225,225,0.3)" stroke="#e01e2e" stroke-opacity="0.55" stroke-width="0.5"/>
<rect x="508.10" y="137.90" width="4.2" height="2.10" fill="#e01e2e"/>
<rect x="528.40" y="148.40" width="4.2" height="4.2" fill="rgba(255,225,225,0.3)" stroke="#e01e2e" stroke-opacity="0.55" stroke-width="0.5"/>
<rect x="528.40" y="148.40" width="4.2" height="2.10" fill="#e01e2e"/>
<rect x="456.40" y="157.90" width="4.2" height="4.2" fill="rgba(255,225,225,0.3)" stroke="#e01e2e" stroke-opacity="0.55" stroke-width="0.5"/>
<rect x="456.40" y="157.90" width="4.2" height="2.10" fill="#e01e2e"/>
<rect x="458.20" y="159.40" width="4.2" height="4.2" fill="rgba(255,225,225,0.3)" stroke="#e01e2e" stroke-opacity="0.55" stroke-width="0.5"/>
<rect x="458.20" y="161.50" width="4.2" height="2.10" fill="#e01e2e"/>
<path d="M548.75,63.60 C550.72,62.33 554.12,62.93 557.00,62.90 C559.88,62.87 563.62,62.68 566.00,63.40 C568.38,64.12 570.72,65.85 571.30,67.20 C571.88,68.55 570.47,70.03 569.50,71.50 C568.53,72.97 567.65,74.33 565.50,76.00 C563.35,77.67 559.75,80.10 556.60,81.50 C553.45,82.90 548.75,84.63 546.60,84.40 C544.45,84.17 543.93,82.42 543.70,80.10 C543.47,77.78 544.36,73.25 545.20,70.50 C546.04,67.75 546.78,64.87 548.75,63.60Z" fill="rgb(152,158,213)"/>
<path d="M588.50,45.90 C590.05,46.25 591.43,47.70 592.30,49.30 C593.17,50.90 593.53,53.30 593.70,55.50 C593.87,57.70 593.85,59.75 593.30,62.50 C592.75,65.25 591.62,68.42 590.40,72.00 C589.18,75.58 587.73,79.33 586.00,84.00 C584.27,88.67 581.95,94.92 580.00,100.00 C578.05,105.08 576.30,110.42 574.30,114.50 C572.30,118.58 570.13,121.42 568.00,124.50 C565.87,127.58 563.83,130.33 561.50,133.00 C559.17,135.67 556.62,138.13 554.00,140.50 C551.38,142.87 549.63,144.57 545.80,147.20 C541.97,149.83 537.23,153.45 531.00,156.30 C524.77,159.15 515.57,162.35 508.40,164.30 C501.23,166.25 494.40,167.22 488.00,168.00 C481.60,168.78 475.00,169.07 470.00,169.00 C465.00,168.93 460.77,168.60 458.00,167.60 C455.23,166.60 454.07,165.10 453.40,163.00 C452.73,160.90 452.90,157.67 454.00,155.00 C455.10,152.33 456.50,150.17 460.00,147.00 C463.50,143.83 468.75,141.42 475.00,136.00 C481.25,130.58 490.00,121.50 497.50,114.50 C505.00,107.50 512.92,100.25 520.00,94.00 C527.08,87.75 534.62,81.28 540.00,77.00 C545.38,72.72 548.20,71.40 552.30,68.30 C556.40,65.20 560.48,61.45 564.60,58.40 C568.72,55.35 573.93,51.87 577.00,50.00 C580.07,48.13 581.08,47.88 583.00,47.20 C584.92,46.52 586.95,45.55 588.50,45.90Z" fill="rgb(158,118,190)" clip-path="url(#RB)"/>
<path d="M588.50,45.90 C590.05,46.25 591.43,47.70 592.30,49.30 C593.17,50.90 593.53,53.30 593.70,55.50 C593.87,57.70 593.85,59.75 593.30,62.50 C592.75,65.25 591.62,68.42 590.40,72.00 C589.18,75.58 587.73,79.33 586.00,84.00 C584.27,88.67 581.95,94.92 580.00,100.00 C578.05,105.08 576.30,110.42 574.30,114.50 C572.30,118.58 570.13,121.42 568.00,124.50 C565.87,127.58 563.83,130.33 561.50,133.00 C559.17,135.67 556.62,138.13 554.00,140.50 C551.38,142.87 549.63,144.57 545.80,147.20 C541.97,149.83 537.23,153.45 531.00,156.30 C524.77,159.15 515.57,162.35 508.40,164.30 C501.23,166.25 494.40,167.22 488.00,168.00 C481.60,168.78 475.00,169.07 470.00,169.00 C465.00,168.93 460.77,168.60 458.00,167.60 C455.23,166.60 454.07,165.10 453.40,163.00 C452.73,160.90 452.90,157.67 454.00,155.00 C455.10,152.33 456.50,150.17 460.00,147.00 C463.50,143.83 468.75,141.42 475.00,136.00 C481.25,130.58 490.00,121.50 497.50,114.50 C505.00,107.50 512.92,100.25 520.00,94.00 C527.08,87.75 534.62,81.28 540.00,77.00 C545.38,72.72 548.20,71.40 552.30,68.30 C556.40,65.20 560.48,61.45 564.60,58.40 C568.72,55.35 573.93,51.87 577.00,50.00 C580.07,48.13 581.08,47.88 583.00,47.20 C584.92,46.52 586.95,45.55 588.50,45.90Z" fill="none" stroke="#b0407a" stroke-width="1.15" clip-path="url(#RB)"/>
<path d="M548.75,63.60 C550.72,62.33 554.12,62.93 557.00,62.90 C559.88,62.87 563.62,62.68 566.00,63.40 C568.38,64.12 570.72,65.85 571.30,67.20 C571.88,68.55 570.47,70.03 569.50,71.50 C568.53,72.97 567.65,74.33 565.50,76.00 C563.35,77.67 559.75,80.10 556.60,81.50 C553.45,82.90 548.75,84.63 546.60,84.40 C544.45,84.17 543.93,82.42 543.70,80.10 C543.47,77.78 544.36,73.25 545.20,70.50 C546.04,67.75 546.78,64.87 548.75,63.60Z" fill="none" stroke="#3557bd" stroke-width="1.3499999999999999"/>
<path d="M551.6,64.4L554.4,67.2L551.6,70.0L548.8000000000001,67.2Z" fill="rgba(220,225,250,0.15)" stroke="#2742aa" stroke-opacity="0.6" stroke-width="0.6"/>
<path d="M551.6,64.4L554.4,67.2L548.8000000000001,67.2Z" fill="#2742aa"/>
<path d="M555.2,66.0L558.0,68.8L555.2,71.6L552.4000000000001,68.8Z" fill="rgba(220,225,250,0.15)" stroke="#2742aa" stroke-opacity="0.6" stroke-width="0.6"/>
<path d="M555.2,66.0L558.0,68.8L552.4000000000001,68.8Z" fill="#2742aa"/>
<path d="M566,64.60000000000001L568.8,67.4L566,70.2L563.2,67.4Z" fill="rgba(220,225,250,0.15)" stroke="#2742aa" stroke-opacity="0.6" stroke-width="0.6"/>
<path d="M566,64.60000000000001L568.8,67.4L563.2,67.4Z" fill="#2742aa"/>
<path d="M560.2,71.60000000000001L563.0,74.4L560.2,77.2L557.4000000000001,74.4Z" fill="rgba(220,225,250,0.15)" stroke="#2742aa" stroke-opacity="0.6" stroke-width="0.6"/>
<path d="M560.2,71.60000000000001L563.0,74.4L557.4000000000001,74.4Z" fill="#2742aa"/>
<path d="M546.6,76.60000000000001L549.4,79.4L546.6,82.2L543.8000000000001,79.4Z" fill="rgba(220,225,250,0.15)" stroke="#2742aa" stroke-opacity="0.6" stroke-width="0.6"/>
<path d="M546.6,76.60000000000001L549.4,79.4L543.8000000000001,79.4Z" fill="#2742aa"/>
<rect x="371.7" y="14.8" width="243.70" height="196.80" fill="none" stroke="#111" stroke-width="1.5"/>
<path d="M408.38,211.6v-2.0M408.38,14.8v2.0M429.84,211.6v-2.0M429.84,14.8v2.0M445.06,211.6v-2.0M445.06,14.8v2.0M456.87,211.6v-2.0M456.87,14.8v2.0M466.52,211.6v-2.0M466.52,14.8v2.0M474.68,211.6v-2.0M474.68,14.8v2.0M481.74,211.6v-2.0M481.74,14.8v2.0M487.97,211.6v-2.0M487.97,14.8v2.0M493.55,211.6v-3.8M493.55,14.8v3.8M530.23,211.6v-2.0M530.23,14.8v2.0M551.69,211.6v-2.0M551.69,14.8v2.0M566.91,211.6v-2.0M566.91,14.8v2.0M578.72,211.6v-2.0M578.72,14.8v2.0M588.37,211.6v-2.0M588.37,14.8v2.0M596.53,211.6v-2.0M596.53,14.8v2.0M603.59,211.6v-2.0M603.59,14.8v2.0M609.82,211.6v-2.0M609.82,14.8v2.0" stroke="#111" stroke-width="1.1" fill="none"/>
<path d="M371.7,191.85h2.0M615.4,191.85h-2.0M371.7,180.30h2.0M615.4,180.30h-2.0M371.7,172.10h2.0M615.4,172.10h-2.0M371.7,165.75h2.0M615.4,165.75h-2.0M371.7,160.55h2.0M615.4,160.55h-2.0M371.7,156.16h2.0M615.4,156.16h-2.0M371.7,152.36h2.0M615.4,152.36h-2.0M371.7,149.00h2.0M615.4,149.00h-2.0M371.7,146.00h3.8M615.4,146.00h-3.8M371.7,126.25h2.0M615.4,126.25h-2.0M371.7,114.70h2.0M615.4,114.70h-2.0M371.7,106.50h2.0M615.4,106.50h-2.0M371.7,100.15h2.0M615.4,100.15h-2.0M371.7,94.95h2.0M615.4,94.95h-2.0M371.7,90.56h2.0M615.4,90.56h-2.0M371.7,86.76h2.0M615.4,86.76h-2.0M371.7,83.40h2.0M615.4,83.40h-2.0M371.7,80.40h3.8M615.4,80.40h-3.8M371.7,60.65h2.0M615.4,60.65h-2.0M371.7,49.10h2.0M615.4,49.10h-2.0M371.7,40.90h2.0M615.4,40.90h-2.0M371.7,34.55h2.0M615.4,34.55h-2.0M371.7,29.35h2.0M615.4,29.35h-2.0M371.7,24.96h2.0M615.4,24.96h-2.0M371.7,21.16h2.0M615.4,21.16h-2.0M371.7,17.80h2.0M615.4,17.80h-2.0" stroke="#111" stroke-width="1.1" fill="none"/>
<text transform="translate(366.0,17.90) scale(0.93,1)" font-size="13.6" text-anchor="end" font-family="Liberation Sans" font-weight="bold" fill="#000" stroke="#000" stroke-width="0.35" >1</text>
<text transform="translate(366.0,84.70) scale(0.93,1)" font-size="13.6" text-anchor="end" font-family="Liberation Sans" font-weight="bold" fill="#000" stroke="#000" stroke-width="0.35" >0.1</text>
<text transform="translate(366.0,150.30) scale(0.93,1)" font-size="13.6" text-anchor="end" font-family="Liberation Sans" font-weight="bold" fill="#000" stroke="#000" stroke-width="0.35" >0.01</text>
<text transform="translate(366.0,215.90) scale(0.93,1)" font-size="13.6" text-anchor="end" font-family="Liberation Sans" font-weight="bold" fill="#000" stroke="#000" stroke-width="0.35" >0.001</text>
<text transform="translate(371.70,227.0) scale(0.93,1)" font-size="13.6" text-anchor="middle" font-family="Liberation Sans" font-weight="bold" fill="#000" stroke="#000" stroke-width="0.35" >0.01</text>
<text transform="translate(493.55,227.0) scale(0.93,1)" font-size="13.6" text-anchor="middle" font-family="Liberation Sans" font-weight="bold" fill="#000" stroke="#000" stroke-width="0.35" >0.1</text>
<text transform="translate(615.40,227.0) scale(0.93,1)" font-size="13.6" text-anchor="middle" font-family="Liberation Sans" font-weight="bold" fill="#000" stroke="#000" stroke-width="0.35" >1</text>
<text x="378" y="30" font-size="13" text-anchor="start" font-family="Liberation Sans" font-weight="bold" fill="#000" stroke="#000" stroke-width="0.35" >Hard base</text>
<text x="378" y="84.1" font-size="13" text-anchor="start" font-family="Liberation Sans" font-weight="bold" fill="#000" stroke="#000" stroke-width="0.35" >Hierarchical</text>
<text x="378" y="138.8" font-size="13" text-anchor="start" font-family="Liberation Sans" font-weight="bold" fill="#000" stroke="#000" stroke-width="0.35" >Adding ribs</text>
<text x="406.5" y="44.2" font-size="13" text-anchor="start" font-family="Liberation Sans" font-weight="bold" fill="#000" stroke="#000" stroke-width="0.35" >[204]</text>
<text x="406.5" y="57.6" font-size="13" text-anchor="start" font-family="Liberation Sans" font-weight="bold" fill="#000" stroke="#000" stroke-width="0.35" >[118]</text>
<text x="406.5" y="71.0" font-size="13" text-anchor="start" font-family="Liberation Sans" font-weight="bold" fill="#000" stroke="#000" stroke-width="0.35" >[207]</text>
<text x="406.5" y="98.1" font-size="13" text-anchor="start" font-family="Liberation Sans" font-weight="bold" fill="#000" stroke="#000" stroke-width="0.35" >[210]</text>
<text x="406.5" y="111.5" font-size="13" text-anchor="start" font-family="Liberation Sans" font-weight="bold" fill="#000" stroke="#000" stroke-width="0.35" >[92]</text>
<text x="406.5" y="124.9" font-size="13" text-anchor="start" font-family="Liberation Sans" font-weight="bold" fill="#000" stroke="#000" stroke-width="0.35" >[211]</text>
<text x="406.5" y="153.0" font-size="13" text-anchor="start" font-family="Liberation Sans" font-weight="bold" fill="#000" stroke="#000" stroke-width="0.35" >[225]</text>
<text x="406.5" y="166.4" font-size="13" text-anchor="start" font-family="Liberation Sans" font-weight="bold" fill="#000" stroke="#000" stroke-width="0.35" >[226]</text>
<text x="406.5" y="179.8" font-size="13" text-anchor="start" font-family="Liberation Sans" font-weight="bold" fill="#000" stroke="#000" stroke-width="0.35" >[228]</text>
<rect x="387.90" y="38.10" width="4.2" height="4.2" fill="rgba(255,225,225,0.3)" stroke="#e01e2e" stroke-opacity="0.55" stroke-width="0.5"/>
<rect x="387.90" y="38.10" width="4.2" height="2.10" fill="#e01e2e"/>
<rect x="387.90" y="51.40" width="4.2" height="4.2" fill="rgba(255,225,225,0.3)" stroke="#e01e2e" stroke-opacity="0.55" stroke-width="0.5"/>
<rect x="390.00" y="51.40" width="2.10" height="4.2" fill="#e01e2e"/>
<rect x="387.90" y="65.20" width="4.2" height="4.2" fill="rgba(255,225,225,0.3)" stroke="#e01e2e" stroke-opacity="0.55" stroke-width="0.5"/>
<rect x="387.90" y="67.30" width="4.2" height="2.10" fill="#e01e2e"/>
<circle cx="390" cy="94.8" r="2.5" fill="#c8eabd" stroke="#4caf3c" stroke-width="0.7"/>
<path d="M387.5,94.8A2.5,2.5 0 0 1 392.5,94.8Z" fill="#4caf3c"/>
<circle cx="390" cy="108.5" r="2.5" fill="#b9e3ad" stroke="#6fc05c" stroke-width="0.7"/>
<circle cx="390" cy="122" r="2.5" fill="#b9e3ad" stroke="#6fc05c" stroke-width="0.7"/>
<path d="M390,146.7L392.8,149.5L390,152.3L387.2,149.5Z" fill="#e4e9fa" stroke="#2742aa" stroke-opacity="0.6" stroke-width="0.6"/>
<path d="M390,146.7L392.8,149.5L387.2,149.5Z" fill="#2742aa"/>
<path d="M390,160.5L392.8,163.3L390,166.10000000000002L387.2,163.3Z" fill="#e4e9fa" stroke="#2742aa" stroke-opacity="0.6" stroke-width="0.6"/>
<path d="M390,160.5L392.8,163.3L390,166.10000000000002Z" fill="#2742aa"/>
<path d="M390,174.2L392.8,177L390,179.8L387.2,177Z" fill="#e4e9fa" stroke="#2742aa" stroke-opacity="0.6" stroke-width="0.6"/>
<path d="M390,179.8L392.8,177L387.2,177Z" fill="#2742aa"/>
<text x="523" y="33.8" font-size="13" text-anchor="start" font-family="Liberation Sans" font-weight="bold" fill="#000" stroke="#000" stroke-width="0.35" >Adding ribs</text>
<line x1="552" y1="37.5" x2="552.00" y2="58.40" stroke="#111" stroke-width="1.25"/>
<path d="M552,62.8L550.05,58.40L553.95,58.40Z" fill="#111"/>
<text x="466.5" y="80" font-size="13" text-anchor="start" font-family="Liberation Sans" font-weight="bold" fill="#000" stroke="#000" stroke-width="0.35" >Hard base</text>
<line x1="497" y1="83.2" x2="497.00" y2="109.80" stroke="#111" stroke-width="1.25"/>
<path d="M497,114.2L495.05,109.80L498.95,109.80Z" fill="#111"/>
<text x="512.4" y="181.3" font-size="13" text-anchor="start" font-family="Liberation Sans" font-weight="bold" fill="#000" stroke="#000" stroke-width="0.35" >Hierarchical</text>
<line x1="505.0" y1="177.9" x2="480.00" y2="177.90" stroke="#111" stroke-width="1.25"/>
<path d="M475.6,177.9L480.00,175.95L480.00,179.85Z" fill="#111"/>
<text x="328.9" y="9.8" font-size="12.4" text-anchor="start" font-family="Liberation Sans" font-weight="bold" fill="#000" stroke="#000" stroke-width="0.35" >(b)</text>
<text transform="translate(9.7,124.0) rotate(-90) scale(0.9,1)" font-size="13" font-family="Liberation Sans" font-weight="bold" font-style="italic" fill="#000" stroke="#000" stroke-width="0.35">E/E<tspan font-size="7" x="20.5" dy="2.0">s</tspan></text>
<text transform="translate(339.6,126.6) rotate(-90)" font-size="13" font-family="Liberation Sans" font-weight="bold" font-style="italic" fill="#000" stroke="#000" stroke-width="0.35">σ<tspan font-size="7" x="6.9" dy="2.2">y</tspan><tspan x="10.4" dy="-2.2">/</tspan><tspan x="15.6">σ</tspan><tspan font-size="7" x="22.4" dy="2.2">s</tspan></text>
<text x="168" y="241" font-size="12.6" font-family="Liberation Sans" font-weight="bold" font-style="italic" fill="#000" stroke="#000" stroke-width="0.35">ρ/ρ<tspan font-size="8" dx="0.8" dy="2.5">s</tspan></text>
<text x="484.5" y="241" font-size="12.6" font-family="Liberation Sans" font-weight="bold" font-style="italic" fill="#000" stroke="#000" stroke-width="0.35">ρ/ρ<tspan font-size="8" dx="0.8" dy="2.5">s</tspan></text></svg>
</body></html>
